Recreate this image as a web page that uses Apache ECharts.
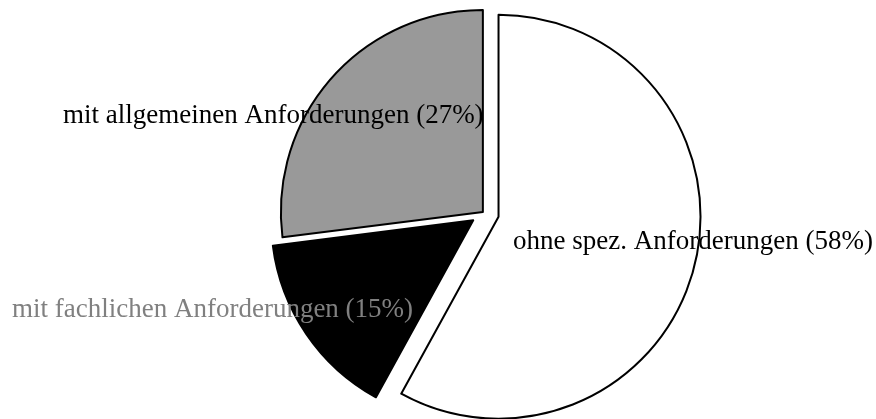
<!DOCTYPE html>
<html lang="de">
<head>
    <meta charset="UTF-8">
    <title>Anforderungen</title>
    <script src="https://cdn.jsdelivr.net/npm/echarts@6/dist/echarts.min.js"></script>
    <style>
        body { margin: 0; background: #fff; }
    </style>
</head>
<body>
    <div id="main" style="width:876px; height:419px;"></div>
    <script>
        // Daten
        var names = ['ohne spez. Anforderungen', 'mit fachlichen Anforderungen', 'mit allgemeinen Anforderungen'];
        var values = [58, 15, 27];

        // Aussehen
        var fills = ['#ffffff', '#000000', '#999999'];
        var labelColors = ['#000000', '#808080', '#000000'];
        var offsets = [15, 13, 1.5];
        var labelPos = [[513, 242], [12, 310], [63, 116]];
        var baseCenter = [484, 213];

        var chart = echarts.init(document.getElementById('main'));

        var total = 0;
        values.forEach(function (v) { total += v; });

        // eine Serie pro Segment, damit jedes Segment eigenen Abstand bekommt
        var series = [];
        var acc = 0;
        for (var k = 0; k < values.length; k++) {
            // Mittelwinkel des Segments (im Uhrzeigersinn ab 12 Uhr)
            var mid = (acc + values[k] / 2) / total * 2 * Math.PI;
            acc += values[k];
            var c = [baseCenter[0] + offsets[k] * Math.sin(mid), baseCenter[1] - offsets[k] * Math.cos(mid)];

            var data = [];
            for (var i = 0; i < values.length; i++) {
                var own = i === k;
                data.push({
                    name: names[i],
                    value: values[i],
                    itemStyle: own ? {
                        color: fills[i],
                        borderColor: '#000',
                        borderWidth: 2
                    } : {
                        color: 'rgba(0,0,0,0)',
                        borderWidth: 0
                    },
                    label: { show: own, color: labelColors[i] }
                });
            }
            series.push({
                type: 'pie',
                center: c,
                radius: 202,
                startAngle: 90,
                clockwise: true,
                silent: true,
                animation: false,
                avoidLabelOverlap: false,
                label: {
                    position: 'inside',
                    formatter: '{b} ({c}%)',
                    fontFamily: '"Liberation Serif", "Times New Roman", serif',
                    fontSize: 27
                },
                labelLine: { show: false },
                labelLayout: function (params) {
                    var p = labelPos[params.dataIndex];
                    return { x: p[0], y: p[1], align: 'left', verticalAlign: 'middle' };
                },
                data: data
            });
        }

        chart.setOption({
            backgroundColor: '#fff',
            series: series
        });
    </script>
</body>
</html>
